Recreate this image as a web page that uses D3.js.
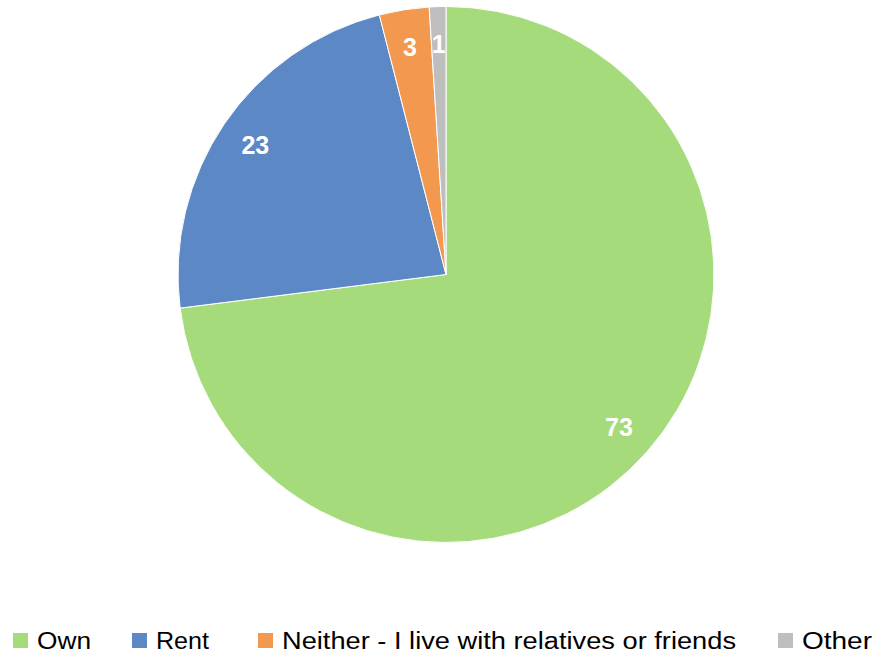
<!DOCTYPE html>
<html><head><meta charset="utf-8">
<script src="https://cdn.jsdelivr.net/npm/d3@7"></script>
<style>html,body{margin:0;padding:0;background:#fff;}</style>
</head><body>
<svg id="chart" width="873" height="655"></svg>
<script>
const categories = ["Own", "Rent", "Neither - I live with relatives or friends", "Other"];
const values = [73, 23, 3, 1];
const colors = ["#A6DB7B", "#5D88C6", "#F2984F", "#BEBEBE"];
const legendX = [13, 132, 258, 778];
const legendW = [54, 53, 454, 70];

const svg = d3.select("#chart");
const cx = 446, cy = 274.5, R = 268;
const data = categories.map((c, i) => ({cat: c, value: values[i], color: colors[i]}));
const pie = d3.pie().value(d => d.value).sort(null);
const arcs = pie(data);
const arc = d3.arc().innerRadius(0).outerRadius(R);
const labelArc = d3.arc().innerRadius(R * 0.86).outerRadius(R * 0.86);

const g = svg.append("g").attr("transform", `translate(${cx},${cy})`);
g.selectAll("path").data(arcs).enter().append("path")
  .attr("d", arc).attr("fill", d => d.data.color)
  .attr("stroke", "#fff").attr("stroke-width", 1);

g.selectAll("text").data(arcs).enter().append("text")
  .attr("transform", d => `translate(${labelArc.centroid(d)})`)
  .attr("text-anchor", "middle").attr("dy", "0.36em")
  .attr("font-family", "Liberation Sans, Arial, sans-serif")
  .attr("font-weight", "bold").attr("font-size", 25)
  .attr("fill", "#fff")
  .text(d => d.data.value);

const leg = svg.append("g");
data.forEach((d, i) => {
  leg.append("rect").attr("x", legendX[i]).attr("y", 633).attr("width", 15).attr("height", 15).attr("fill", d.color);
  leg.append("text").attr("x", legendX[i] + 24).attr("y", 649)
    .attr("font-family", "Liberation Sans, Arial, sans-serif").attr("font-size", 23)
    .attr("fill", "#000")
    .attr("textLength", legendW[i]).attr("lengthAdjust", "spacingAndGlyphs")
    .text(d.cat);
});
</script>
</body></html>
